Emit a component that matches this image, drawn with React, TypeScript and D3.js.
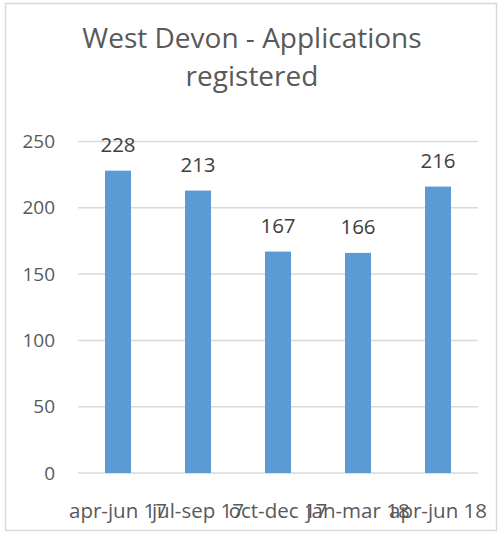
import React from "react";
import * as d3 from "d3";

const categories = ["apr-jun 17", "jul-sep 17", "oct-dec 17", "jan-mar 18", "apr-jun 18"];
const values = [228, 213, 167, 166, 216];
const yTicks = [0, 50, 100, 150, 200, 250];
const titleLines = ["West Devon - Applications", "registered"];

const W = 502;
const H = 533;
const plot = { left: 78, right: 478, top: 141.5, bottom: 473 };
const FONT = "'Open Sans', sans-serif";

export default function App() {
  const x = d3
    .scaleBand<string>()
    .domain(categories)
    .range([plot.left, plot.right])
    .paddingInner(0.675)
    .paddingOuter(0.3375);
  const y = d3.scaleLinear().domain([0, 250]).range([plot.bottom, plot.top]);

  return (
    <svg
      width={W}
      height={H}
      style={{ position: "absolute", left: 0, top: 0 }}
      fontFamily={FONT}
    >
      <rect x={0} y={0} width={W} height={H} fill="#fff" />
      <rect x={5.5} y={3.5} width={491} height={527} fill="#fff" stroke="#d9d9d9" strokeWidth={1.5} />
      {titleLines.map((t, i) => (
        <text key={i} x={252} y={48 + i * 38} textAnchor="middle" fontSize={28} fill="#595959">
          {t}
        </text>
      ))}
      {yTicks.map((t) => (
        <g key={t}>
          <line x1={plot.left} x2={plot.right} y1={y(t)} y2={y(t)} stroke="#d9d9d9" strokeWidth={1.5} />
          <text x={55} y={y(t)} dy="0.35em" textAnchor="end" fontSize={19} fill="#595959">
            {t}
          </text>
        </g>
      ))}
      {categories.map((c, i) => (
        <g key={c}>
          <rect x={x(c)} y={y(values[i])} width={x.bandwidth()} height={plot.bottom - y(values[i])} fill="#5b9bd5" />
          <text x={x(c)! + x.bandwidth() / 2} y={y(values[i]) - 19} textAnchor="middle" fontSize={20.5} fill="#404040">
            {values[i]}
          </text>
          <text x={x(c)! + x.bandwidth() / 2} y={518} textAnchor="middle" fontSize={20.5} fill="#595959">
            {c}
          </text>
        </g>
      ))}
    </svg>
  );
}
